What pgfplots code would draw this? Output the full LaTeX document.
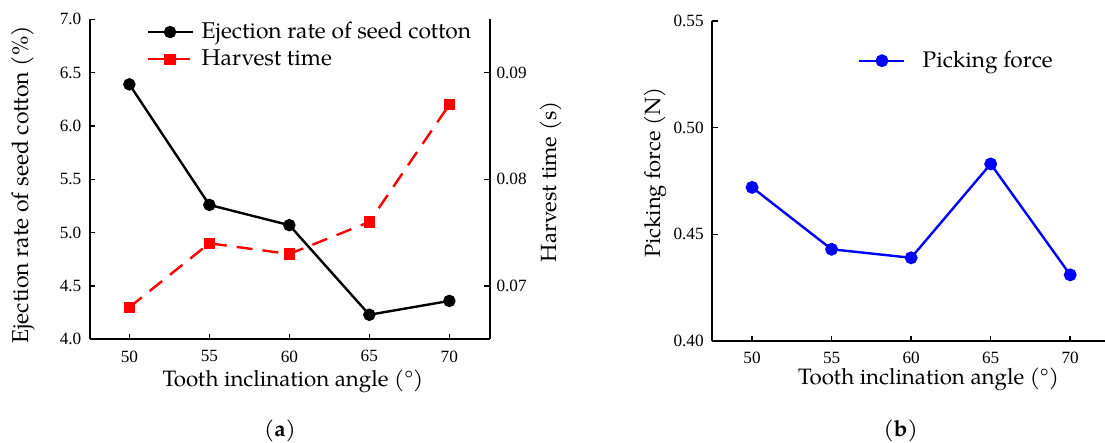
\documentclass[border=0pt]{standalone}
\usepackage{pgfplots}
\pgfplotsset{compat=1.18}
\usepackage{fontspec}
\setmainfont{TeX Gyre Pagella}
\newfontfamily\tickfont{Liberation Serif}

\pgfplotsset{
  base/.style={
    scale only axis,
    ticklabel style={font=\tickfont\fontsize{8.6}{9}\selectfont},
    xticklabel style={yshift=-2.1pt},
    /pgf/number format/assume math mode=true,
    scaled y ticks=false,
    axis line style={line width=1pt},
    tick style={line width=0.8pt, black},
    major tick length=2.6pt,
    tick align=inside,
    legend style={draw=none, fill=none, legend cell align=left, anchor=north west},
    legend image code/.code={\draw[mark repeat=2,mark phase=2,##1]
      plot coordinates {(0pt,0pt) (11.25pt,0pt) (22.5pt,0pt)};},
  },
  fix1/.style={yticklabel style={/pgf/number format/fixed, /pgf/number format/fixed zerofill, /pgf/number format/precision=1}},
  fix2/.style={yticklabel style={/pgf/number format/fixed, /pgf/number format/fixed zerofill, /pgf/number format/precision=2}},
  dashred/.style={red, line width=1.2pt, dash pattern=on 8pt off 5pt, mark=square*, mark size=2.25pt, mark options={solid}},
}

\begin{document}
\begin{tikzpicture}[x=1pt,y=1pt]
\useasboundingbox (0,0) rectangle (552.5,-221.5);

% (a) left axis: ejection rate
\begin{axis}[base, fix1,
  at={(45pt,-169.65pt)}, anchor=south west,
  width=199.75pt, height=160pt,
  xmin=47.54, xmax=72.51, ymin=4, ymax=7,
  xtick={50,55,60,65,70},
  ytick={4,4.5,5,5.5,6,6.5,7},
  yticklabel style={xshift=-0.8pt},
  axis x line*=bottom, axis y line*=left,
  xlabel={Tooth inclination angle (°)},
  ylabel={Ejection rate of seed cotton (\%)},
  every axis x label/.style={at={(axis description cs:0.508,-0.1325)}, anchor=center, font=\fontsize{11.15}{13}\selectfont},
  every axis y label/.style={at={(axis description cs:-0.167,0.483)}, rotate=90, anchor=center, font=\fontsize{11.5}{13}\selectfont},
  legend style={at={(axis description cs:0.125,1.017)}, font=\fontsize{11.4}{13}\selectfont},
]
\addplot[black, line width=1.2pt, mark=*, mark size=2.5pt] coordinates {
  (50,6.39) (55,5.26) (60,5.07) (65,4.23) (70,4.36)
};
\addlegendentry{\hspace*{2pt}Ejection rate of seed cotton}
\addlegendimage{dashred}
\addlegendentry{\hspace*{2pt}Harvest time}
\end{axis}

% (a) right axis: harvest time
\begin{axis}[base, fix2,
  at={(45pt,-169.65pt)}, anchor=south west,
  width=199.75pt, height=160pt,
  xmin=47.54, xmax=72.51, ymin=0.065, ymax=0.095,
  axis x line=none, axis y line*=right,
  ytick={0.07,0.08,0.09},
  ylabel={Harvest time (s)},
  every axis y label/.style={at={(axis description cs:1.154,0.492)}, rotate=90, anchor=center, font=\fontsize{11}{13}\selectfont},
]
\addplot[dashred] coordinates {
  (50,0.068) (55,0.074) (60,0.073) (65,0.076) (70,0.087)
};
\end{axis}

% (b) picking force
\begin{axis}[base, fix2,
  at={(356.15pt,-170.5pt)}, anchor=south west,
  width=198.85pt, height=160pt,
  xmin=47.5, xmax=72.5, ymin=0.40, ymax=0.55,
  xtick={50,55,60,65,70},
  ytick={0.40,0.45,0.50,0.55},
  yticklabel style={xshift=-0.8pt},
  axis x line*=bottom, axis y line=box,
  xlabel={Tooth inclination angle (°)},
  ylabel={Picking force (N)},
  every axis x label/.style={at={(axis description cs:0.544,-0.12)}, anchor=center, font=\fontsize{11.15}{13}\selectfont},
  every axis y label/.style={at={(axis description cs:-0.144,0.526)}, rotate=90, anchor=center, font=\fontsize{11}{13}\selectfont},
  legend style={at={(axis description cs:0.351,0.9325)}, font=\fontsize{11.3}{13}\selectfont},
]
\addplot[blue, line width=1.2pt, mark=*, mark size=2.6pt] coordinates {
  (50,0.472) (55,0.443) (60,0.439) (65,0.483) (70,0.431)
};
\addlegendentry{\hspace*{6.5pt}Picking force}
\end{axis}

\node[font=\fontsize{11.2}{13}\selectfont] at (140,-215.35) {(\textbf{a})};
\node[font=\fontsize{11.2}{13}\selectfont] at (450.35,-215.35) {(\textbf{b})};
\end{tikzpicture}
\end{document}
